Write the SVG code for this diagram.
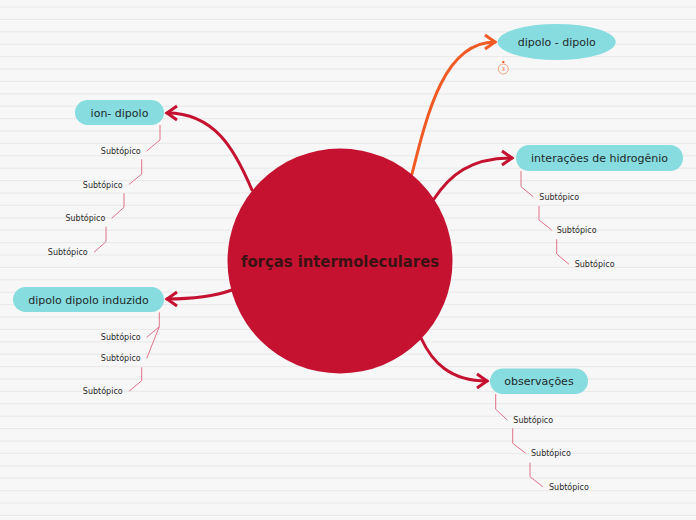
<svg xmlns="http://www.w3.org/2000/svg" width="696" height="520" viewBox="0 0 696 520">
<style>
.bg{fill:#f7f7f7}
.grid{stroke:#e8e8e8;stroke-width:1;fill:none}
.node{fill:#87dcdf}
.lbl{font-family:"DejaVu Sans","Liberation Sans",sans-serif;font-size:11px;fill:#1e2a2b;text-anchor:middle}
.sub{font-family:"DejaVu Sans","Liberation Sans",sans-serif;font-size:8px;fill:#2a2a2a}
.end{text-anchor:end}
.conn{fill:none;stroke:#c41230;stroke-width:3;stroke-linecap:round}
.conn-o{fill:none;stroke:#f05a24;stroke-width:3;stroke-linecap:round}
.subl{fill:none;stroke:#df7389;stroke-width:1}
</style>
<defs>
<marker id="arr" markerUnits="userSpaceOnUse" markerWidth="20" markerHeight="20" refX="0" refY="0" viewBox="-14 -10 20 20" orient="auto" overflow="visible">
<path d="M-10,-7 L0,0 L-10,7" fill="none" stroke="#c41230" stroke-width="3" stroke-linejoin="miter"/>
</marker>
<marker id="arr-o" markerUnits="userSpaceOnUse" markerWidth="20" markerHeight="20" refX="0" refY="0" viewBox="-14 -10 20 20" orient="auto" overflow="visible">
<path d="M-10,-7 L0,0 L-10,7" fill="none" stroke="#f05a24" stroke-width="3" stroke-linejoin="miter"/>
</marker>
</defs>
<rect class="bg" x="0" y="0" width="696" height="520"/>
<path class="grid" d="M0 7H696M0 19.4H696M0 31.8H696M0 44.2H696M0 56.6H696M0 69H696M0 81.4H696M0 93.8H696M0 106.2H696M0 118.6H696M0 131H696M0 143.4H696M0 155.8H696M0 168.2H696M0 180.6H696M0 193H696M0 205.4H696M0 217.8H696M0 230.2H696M0 242.6H696M0 255H696M0 267.4H696M0 279.8H696M0 292.2H696M0 304.6H696M0 317H696M0 329.4H696M0 341.8H696M0 354.2H696M0 366.6H696M0 379H696M0 391.4H696M0 403.8H696M0 416.2H696M0 428.6H696M0 441H696M0 453.4H696M0 465.8H696M0 478.2H696M0 490.6H696M0 503H696M0 515.4H696"/>

<g id="connectors">
<path class="conn" d="M252,190 C235,150 215,113 167,113" marker-end="url(#arr)"/>
<path class="conn" d="M232,290 C215,296 195,299 167,299" marker-end="url(#arr)"/>
<path class="conn-o" d="M412,174 C428,110 445,42 495,42" marker-end="url(#arr-o)"/>
<path class="conn" d="M434,199 C450,175 470,158 512,158" marker-end="url(#arr)"/>
<path class="conn" d="M421,338 C432,362 450,381 487,381" marker-end="url(#arr)"/>
</g>

<g id="subtopic-lines">
<polyline class="subl" points="160,125 160,140 146.7,151"/>
<polyline class="subl" points="141.7,159.3 141.7,174 129.3,184.3"/>
<polyline class="subl" points="124,193.3 124,207.3 111.7,218.3"/>
<polyline class="subl" points="106,226.7 106,241.7 94,252.3"/>
<polyline class="subl" points="159.3,312.3 159.3,326.7 146.7,337.3"/>
<polyline class="subl" points="159.3,326.7 146.7,358.3"/>
<polyline class="subl" points="141.7,367.3 141.7,380.7 129.3,391"/>
<polyline class="subl" points="521,171 521,186.7 533.3,196.7"/>
<polyline class="subl" points="539,206 539,220 551.7,230"/>
<polyline class="subl" points="556.7,239.3 556.7,254 569,264.3"/>
<polyline class="subl" points="495.7,394 495.7,409.3 507.3,420"/>
<polyline class="subl" points="512.7,428.3 512.7,443.3 525.7,453.3"/>
<polyline class="subl" points="530,462.7 530,476.7 542.7,486.7"/>
</g>

<g id="central">
<circle cx="340" cy="261" r="112.5" fill="#c41230"/>
<text x="340" y="267" font-family="DejaVu Sans, Liberation Sans, sans-serif" font-size="15" font-weight="bold" fill="#3a1212" text-anchor="middle" textLength="198" lengthAdjust="spacingAndGlyphs">forças intermoleculares</text>
</g>

<g id="ion-dipolo">
<rect class="node" x="75" y="100" width="89" height="25" rx="12.5"/>
<text class="lbl" x="119.5" y="116.5">ion- dipolo</text>
<text class="sub end" x="140.7" y="154">Subtópico</text>
<text class="sub end" x="122.7" y="187.5">Subtópico</text>
<text class="sub end" x="105.3" y="221">Subtópico</text>
<text class="sub end" x="87.7" y="254.5">Subtópico</text>
</g>

<g id="dipolo-dipolo-induzido">
<rect class="node" x="13" y="287" width="151" height="25" rx="12.5"/>
<text class="lbl" x="88.5" y="303.5">dipolo dipolo induzido</text>
<text class="sub end" x="140.7" y="339.5">Subtópico</text>
<text class="sub end" x="140.7" y="360.5">Subtópico</text>
<text class="sub end" x="122.7" y="394">Subtópico</text>
</g>

<g id="dipolo-dipolo">
<ellipse class="node" cx="556.7" cy="42" rx="59" ry="18"/>
<text class="lbl" x="556.7" y="46">dipolo - dipolo</text>
<circle cx="503.3" cy="69" r="5" fill="none" stroke="#f58b66" stroke-width="0.8"/>
<rect x="502.3" y="61" width="2" height="2" fill="#f05a24"/>
<text x="503.3" y="71" font-family="DejaVu Sans, sans-serif" font-size="5" fill="#f05a24" text-anchor="middle">3</text>
</g>

<g id="interacoes">
<rect class="node" x="516" y="145" width="167" height="26" rx="13"/>
<text class="lbl" x="599.5" y="162">interações de hidrogênio</text>
<text class="sub" x="539.3" y="199.5">Subtópico</text>
<text class="sub" x="556.7" y="233">Subtópico</text>
<text class="sub" x="574.7" y="267">Subtópico</text>
</g>

<g id="observacoes">
<rect class="node" x="490" y="368.5" width="98" height="25.5" rx="12.75"/>
<text class="lbl" x="539" y="385">observações</text>
<text class="sub" x="513.3" y="423">Subtópico</text>
<text class="sub" x="531" y="456">Subtópico</text>
<text class="sub" x="549" y="490">Subtópico</text>
</g>
</svg>
